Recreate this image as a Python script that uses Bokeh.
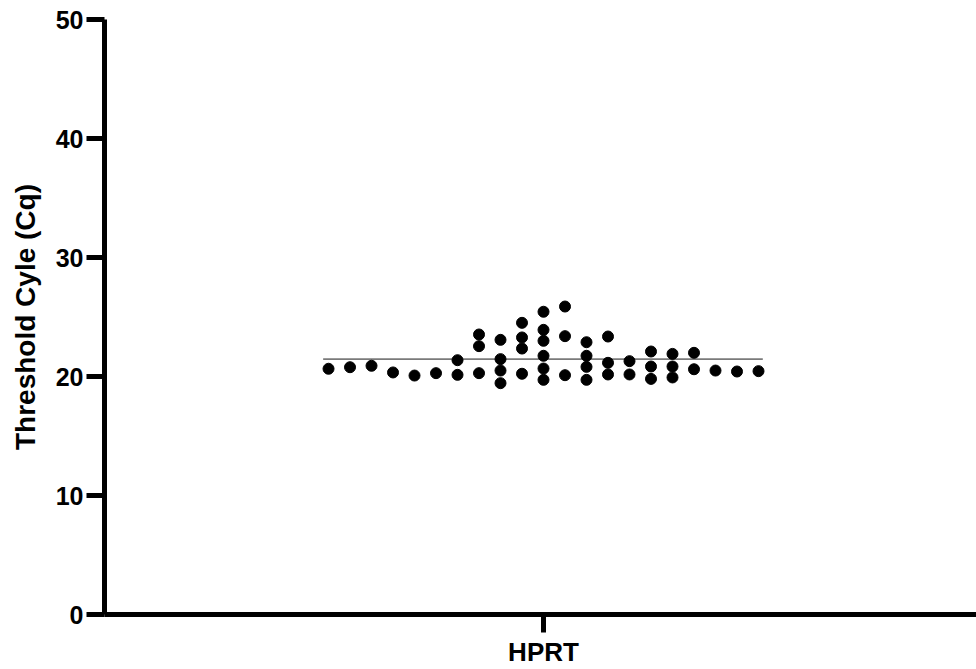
import numpy as np
from bokeh.plotting import figure
from bokeh.models import ColumnDataSource, FixedTicker, Range1d
from bokeh.embed import file_html
from bokeh.resources import INLINE

# Threshold cycle (Cq) values, grouped by the horizontal column they occupy (left to right)
category = "HPRT"
cq_by_column = [
    [20.65],
    [20.78],
    [20.90],
    [20.34],
    [20.08],
    [20.28],
    [21.37, 20.14],
    [23.53, 22.55, 20.28],
    [23.08, 21.46, 20.50, 19.44],
    [24.51, 23.28, 22.35, 20.23],
    [25.44, 23.92, 23.00, 21.74, 20.67, 19.72],
    [25.88, 23.39, 20.11],
    [22.88, 21.74, 20.81, 19.72],
    [23.36, 21.15, 20.17],
    [21.29, 20.17],
    [22.10, 20.84, 19.80],
    [21.90, 20.84, 19.92],
    [21.99, 20.61],
    [20.50],
    [20.42],
    [20.45],
]
y_ticks = [0, 10, 20, 30, 40, 50]
y_label = "Threshold Cyle (Cq)"

center = (len(cq_by_column) - 1) / 2
xs, ys = [], []
for i, col in enumerate(cq_by_column):
    for v in col:
        xs.append(i - center)
        ys.append(v)
mean_cq = float(np.mean(ys))

src = ColumnDataSource(dict(x=xs, y=ys))

p = figure(width=976, height=669, output_backend="svg", toolbar_location=None,
           x_range=Range1d(-20.42, 20.14), y_range=Range1d(0, 50),
           min_border_left=104, min_border_top=19, min_border_bottom=54,
           min_border_right=0)
p.outline_line_color = None
p.xgrid.grid_line_color = None
p.ygrid.grid_line_color = None
p.background_fill_color = "white"
p.border_fill_color = "white"

# mean line
p.segment(x0=[-center - 0.25], x1=[center + 0.2], y0=[mean_cq], y1=[mean_cq],
          line_color="#7a7a7a", line_width=1.6)

p.scatter("x", "y", source=src, size=11, fill_color="black", line_color="black")

font = "Liberation Sans"
for ax in (p.xaxis[0], p.yaxis[0]):
    ax.axis_line_width = 5
    ax.axis_line_color = "black"
    ax.major_tick_line_width = 5
    ax.major_tick_line_color = "black"
    ax.major_tick_out = 18
    ax.major_tick_in = 0
    ax.minor_tick_line_color = None
    ax.major_label_text_font = font
    ax.major_label_text_font_style = "bold"
    ax.major_label_text_color = "black"

p.xaxis.ticker = FixedTicker(ticks=[0])
p.xaxis.major_label_overrides = {0: category}
p.xaxis.major_label_text_font_size = "26px"
p.xaxis.major_label_standoff = 4

p.yaxis.ticker = FixedTicker(ticks=y_ticks)
p.yaxis.major_label_text_font_size = "25px"
p.yaxis.major_label_standoff = 3
p.yaxis.axis_label = y_label
p.yaxis.axis_label_text_font = font
p.yaxis.axis_label_text_font_style = "bold"
p.yaxis.axis_label_text_font_size = "28px"
p.yaxis.axis_label_text_color = "black"
p.yaxis.axis_label_standoff = 12

open("out.html", "w").write(file_html(p, INLINE))
